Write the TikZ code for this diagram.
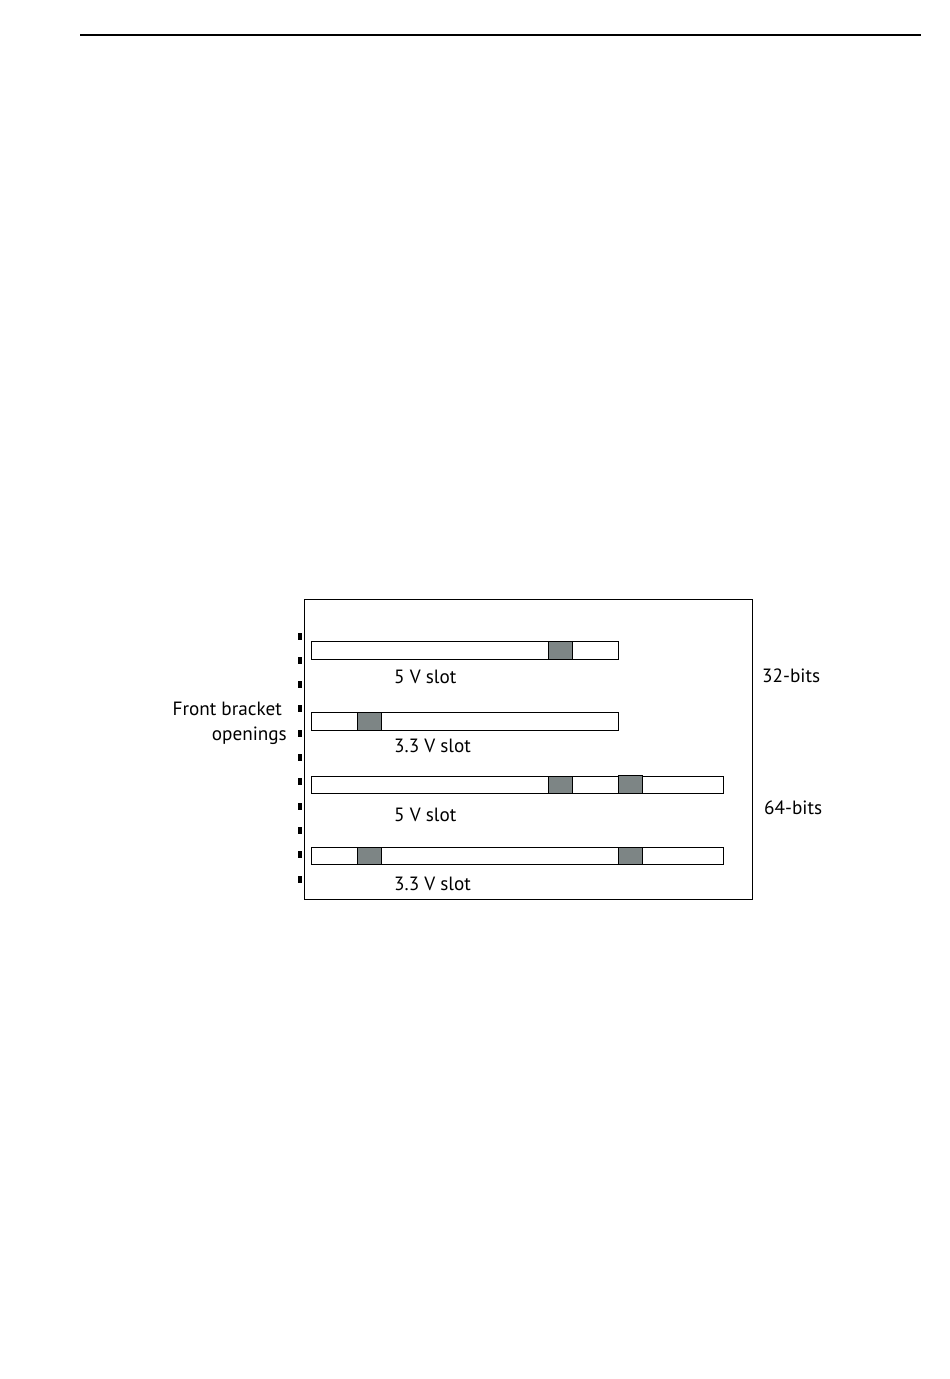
\documentclass[tikz,border=0pt]{standalone}
\usepackage{fontspec}
\setmainfont{PT Sans}
\usetikzlibrary{positioning}
\definecolor{keygray}{RGB}{125,133,133}

\begin{document}
\begin{tikzpicture}[
  x=1pt, y=-1pt,
  slot/.style={draw, line width=1.2pt, minimum height=18pt, inner sep=0pt, anchor=north west},
  key/.style={draw, fill=keygray, line width=1.2pt, minimum width=24pt, minimum height=18pt, inner sep=0pt, anchor=north west},
  lbl/.style={font=\fontsize{19.2}{25}\selectfont, inner sep=0pt},
  opening/.style={fill=black, minimum width=3.2pt, minimum height=7pt, inner sep=0pt}
]
\useasboundingbox (0,0) rectangle (950,1379);
\draw[line width=1.3pt] (80,35) -- (921,35);

% board outline
\node[draw, line width=1pt, minimum width=448pt, minimum height=300pt, inner sep=0pt, anchor=north west] (board) at (303.5,599) {};

% front bracket openings
\foreach \i in {0,...,10}
  \node[opening] (open\i) at (300,636+24.3*\i) {};
\node[lbl, align=right, anchor=north east] (front) at (287,702) {Front bracket\kern5pt\\openings};

% 32-bit slots
\node[slot, minimum width=307pt] (slotA) at (310.5,640.5) {};
\node[key] (keyA) at (547.5,640.5) {};
\node[lbl, anchor=base west] (lblA) at (394,683) {5 V slot};
\node[slot, minimum width=307pt] (slotB) at (310.5,712) {};
\node[key] (keyB) at (356.5,712) {};
\node[lbl, anchor=base west] (lblB) at (394,752) {3.3 V slot};
\node[lbl, anchor=base west] (bits32) at (762,682) {32-bits};

% 64-bit slots
\node[slot, minimum width=412pt, minimum height=17pt] (slotC) at (310.5,775.5) {};
\node[key, minimum height=17pt] (keyC1) at (547.5,775.5) {};
\node[key, minimum height=18pt] (keyC2) at (617.5,774.5) {};
\node[lbl, anchor=base west] (lblC) at (394,821) {5 V slot};
\node[slot, minimum width=412pt, minimum height=17pt] (slotD) at (310.5,846.5) {};
\node[key, minimum height=17pt] (keyD1) at (356.5,846.5) {};
\node[key, minimum height=17pt] (keyD2) at (617.5,846.5) {};
\node[lbl, anchor=base west] (lblD) at (394,890) {3.3 V slot};
\node[lbl, anchor=base west] (bits64) at (764,814) {64-bits};
\end{tikzpicture}
\end{document}
